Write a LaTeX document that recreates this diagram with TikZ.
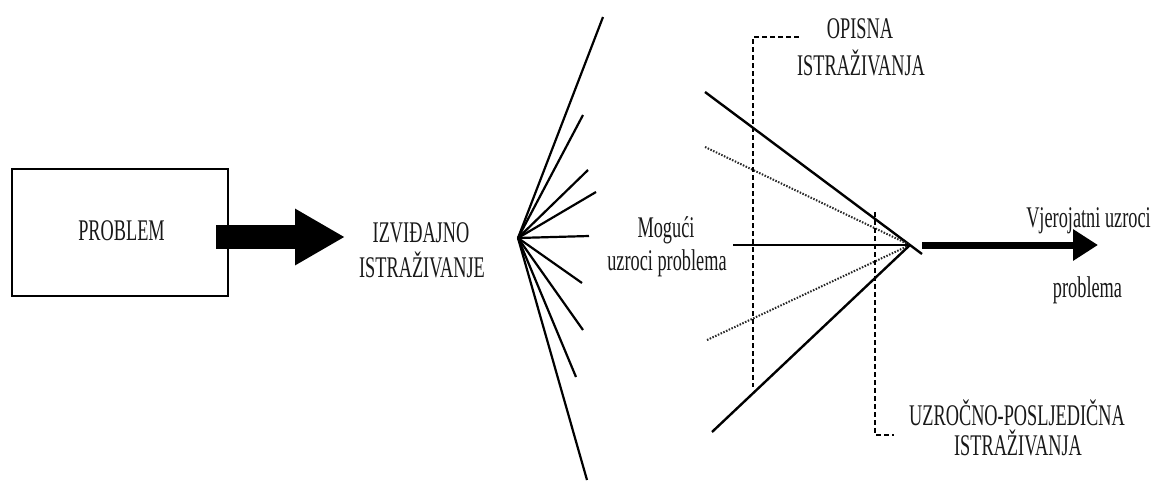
\documentclass[tikz,border=0pt]{standalone}
\usepackage{fontspec}
\setmainfont{Liberation Serif}[FakeStretch=0.61]
\usetikzlibrary{arrows.meta}
\tikzset{
  lbl/.style={anchor=base, inner sep=0pt, text=black!90, font=\fontsize{30}{34}\selectfont},
  solidln/.style={line width=2.4pt, black},
  fanln/.style={line width=2.2pt, black},
  dotln/.style={line width=2pt, black!85, dash pattern=on 1.5pt off 1.5pt},
  dashln/.style={line width=2pt, black, dash pattern=on 5pt off 3pt},
  bigarrow/.style={line width=24pt, -{Triangle[length=50pt,width=53pt]}},
  thinarrow/.style={line width=7pt, -{Triangle[length=25pt,width=30pt]}},
}
\begin{document}
\begin{tikzpicture}[x=1pt,y=-1pt]
\useasboundingbox[fill=white] (0,0) rectangle (1157,480);

% problem box
\node[draw, line width=2.4pt, minimum width=216pt, minimum height=127pt, inner sep=0pt] (box) at (120,232.5) {};
\node[lbl] (prob) at (121.5,240) {PROBLEM};

% big arrow
\coordinate (a1s) at (216,237);
\coordinate (a1e) at (345,237);
\draw[bigarrow] (a1s) -- (a1e);

\node[lbl] (izv1) at (421,242) {IZVIĐAJNO};
\node[lbl] (izv2) at (422,277) {ISTRAŽIVANJE};

% fan
\coordinate (fan) at (518,238);
\coordinate (f1) at (603,17);
\coordinate (f2) at (583,115);
\coordinate (f3) at (588,170);
\coordinate (f4) at (596,192);
\coordinate (f5) at (589,236);
\coordinate (f6) at (582,283);
\coordinate (f7) at (583,330);
\coordinate (f8) at (576,377);
\coordinate (f9) at (587,480);
\foreach \e in {f1,f2,f3,f4,f5,f6,f7,f8,f9} \draw[fanln] (fan) -- (\e);

\node[lbl] (mog1) at (666,237) {Mogući};
\node[lbl] (mog2) at (667,270) {uzroci problema};

% converging lines
\coordinate (apex) at (910,245);
\coordinate (us) at (705,92);
\coordinate (ue) at (922,254);
\coordinate (ud) at (705,147);
\coordinate (hs) at (733,245);
\coordinate (ld) at (707,340);
\coordinate (ls) at (712,432);
\draw[solidln] (us) -- (ue);
\draw[dotln] (ud) -- (apex);
\draw[solidln] (hs) -- (apex);
\draw[dotln] (ld) -- (apex);
\draw[solidln] (ls) -- (apex);

% dashed brackets
\coordinate (d1a) at (799,37);
\coordinate (d1b) at (753,37);
\coordinate (d1c) at (753,387);
\draw[dashln] (d1a) -- (d1b) -- (d1c);
\coordinate (d2a) at (875,212);
\coordinate (d2b) at (875,435);
\coordinate (d2c) at (894,435);
\draw[dashln] (d2a) -- (d2b) -- (d2c);

\node[lbl] (op1) at (860,38) {OPISNA};
\node[lbl] (op2) at (861,75) {ISTRAŽIVANJA};

% output arrow
\coordinate (a2s) at (922,245);
\coordinate (a2e) at (1098,245);
\draw[thinarrow] (a2s) -- (a2e);

\node[lbl] (vj1) at (1088.5,227) {Vjerojatni uzroci};
\node[lbl] (vj2) at (1087.5,297) {problema};

\node[lbl] (uz1) at (1017,425) {UZROČNO-POSLJEDIČNA};
\node[lbl] (uz2) at (1018,455) {ISTRAŽIVANJA};
\end{tikzpicture}
\end{document}
